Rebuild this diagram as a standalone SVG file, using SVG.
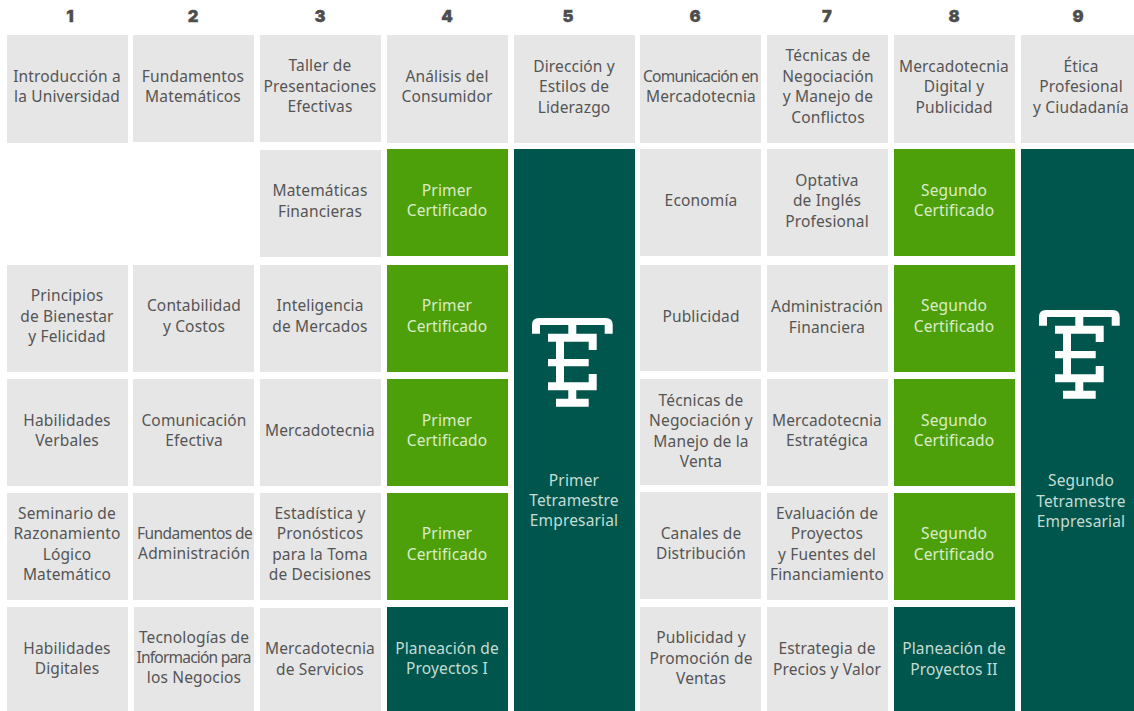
<svg xmlns="http://www.w3.org/2000/svg" width="1134" height="711" viewBox="0 0 1134 711">
<style>
text{font-family:"Noto Sans","Open Sans",sans-serif;font-size:15.5px;letter-spacing:.15px;text-anchor:middle}
.h{font-family:"Inter","Noto Sans",sans-serif;font-size:16.5px;font-weight:900;fill:#4d4d4d;stroke:#4d4d4d;stroke-width:.3px;letter-spacing:0}
.g rect{fill:#e6e6e6}.g text{fill:#555}
.c rect{fill:#4ea00b}.c text{fill:#dcecc9}
.d rect{fill:#00564c}.d text{fill:#c5dcd5}
</style>
<defs>
<path id="logo" fill="#fff" d="M532 333.7V325Q532 318 539 318H605.700Q612.700 318 612.700 325V333.700H604.700V325H576.300V333.700H596.700V350H588.700V341.700H564V359H588.700V366.300H564V382.300H588.700V374H596.700V390.300H576.300V398.700H588.700V406.700H556V398.700H568.300V390.300H548V382.300H556V366.300H548V359H556V341.700H548V333.700H568.300V325H540V333.700Z"/>
</defs>
<g id="headers">
<text class="h" x="70" y="22">1</text><text class="h" x="193" y="22">2</text><text class="h" x="320" y="22">3</text><text class="h" x="447" y="22">4</text><text class="h" x="568" y="22">5</text><text class="h" x="695" y="22">6</text><text class="h" x="827" y="22">7</text><text class="h" x="954" y="22">8</text><text class="h" x="1078" y="22">9</text>
</g>
<g id="n1" class="g"><rect x="7" y="35" width="121" height="108"/><text x="67" y="82">Introducción a</text><text x="67" y="102">la Universidad</text></g>
<g id="n2" class="g"><rect x="133" y="35" width="121" height="107"/><text x="193" y="82">Fundamentos</text><text x="193" y="102">Matemáticos</text></g>
<g id="n3" class="g"><rect x="260" y="35" width="121" height="107"/><text x="320" y="71">Taller de</text><text x="320" y="92">Presentaciones</text><text x="320" y="112">Efectivas</text></g>
<g id="n4" class="g"><rect x="387" y="35" width="121" height="108"/><text x="447" y="82">Análisis del</text><text x="447" y="102">Consumidor</text></g>
<g id="n5" class="g"><rect x="514" y="35" width="121" height="108"/><text x="574" y="72">Dirección y</text><text x="574" y="92">Estilos de</text><text x="574" y="113">Liderazgo</text></g>
<g id="n6" class="g"><rect x="640" y="35" width="121" height="108"/><text x="701" y="82" textLength="116">Comunicación en</text><text x="701" y="102">Mercadotecnia</text></g>
<g id="n7" class="g"><rect x="767" y="35" width="121" height="108"/><text x="828" y="61">Técnicas de</text><text x="828" y="82">Negociación</text><text x="828" y="102">y Manejo de</text><text x="828" y="123">Conflictos</text></g>
<g id="n8" class="g"><rect x="894" y="35" width="121" height="108"/><text x="954" y="72">Mercadotecnia</text><text x="954" y="92">Digital y</text><text x="954" y="113">Publicidad</text></g>
<g id="n9" class="g"><rect x="1021" y="35" width="113" height="108"/><text x="1081" y="72">Ética</text><text x="1081" y="92">Profesional</text><text x="1081" y="113">y Ciudadanía</text></g>

<g id="n10" class="g"><rect x="260" y="150" width="121" height="107"/><text x="320" y="196">Matemáticas</text><text x="320" y="217">Financieras</text></g>
<g id="n11" class="c"><rect x="387" y="149" width="121" height="107"/><text x="447" y="196">Primer</text><text x="447" y="216">Certificado</text></g>
<g id="n12" class="d"><rect x="514" y="149" width="121" height="562"/><text x="574" y="486">Primer</text><text x="574" y="506">Tetramestre</text><text x="574" y="526">Empresarial</text><use href="#logo"/></g>
<g id="n13" class="g"><rect x="640" y="149" width="121" height="107"/><text x="701" y="206">Economía</text></g>
<g id="n14" class="g"><rect x="767" y="149" width="121" height="107"/><text x="827" y="186">Optativa</text><text x="827" y="206">de Inglés</text><text x="827" y="227">Profesional</text></g>
<g id="n15" class="c"><rect x="894" y="149" width="121" height="107"/><text x="954" y="196">Segundo</text><text x="954" y="216">Certificado</text></g>
<g id="n16" class="d"><rect x="1021" y="149" width="113" height="562"/><text x="1081" y="486">Segundo</text><text x="1081" y="507">Tetramestre</text><text x="1081" y="527">Empresarial</text><use href="#logo" x="507" y="-8"/></g>

<g id="n17" class="g"><rect x="7" y="265" width="121" height="107"/><text x="67" y="301">Principios</text><text x="67" y="322">de Bienestar</text><text x="67" y="342">y Felicidad</text></g>
<g id="n18" class="g"><rect x="133" y="265" width="121" height="107"/><text x="194" y="311">Contabilidad</text><text x="194" y="332">y Costos</text></g>
<g id="n19" class="g"><rect x="260" y="265" width="121" height="107"/><text x="320" y="311">Inteligencia</text><text x="320" y="332">de Mercados</text></g>
<g id="n20" class="c"><rect x="387" y="265" width="121" height="107"/><text x="447" y="311">Primer</text><text x="447" y="332">Certificado</text></g>
<g id="n21" class="g"><rect x="640" y="265" width="121" height="106"/><text x="701" y="322">Publicidad</text></g>
<g id="n22" class="g"><rect x="767" y="265" width="121" height="107"/><text x="827" y="312">Administración</text><text x="827" y="333">Financiera</text></g>
<g id="n23" class="c"><rect x="894" y="265" width="121" height="107"/><text x="954" y="311">Segundo</text><text x="954" y="332">Certificado</text></g>

<g id="n24" class="g"><rect x="7" y="379" width="121" height="107"/><text x="67" y="426">Habilidades</text><text x="67" y="446">Verbales</text></g>
<g id="n25" class="g"><rect x="133" y="379" width="121" height="107"/><text x="194" y="426">Comunicación</text><text x="194" y="446">Efectiva</text></g>
<g id="n26" class="g"><rect x="260" y="379" width="121" height="107"/><text x="320" y="436">Mercadotecnia</text></g>
<g id="n27" class="c"><rect x="387" y="379" width="121" height="107"/><text x="447" y="426">Primer</text><text x="447" y="446">Certificado</text></g>
<g id="n28" class="g"><rect x="640" y="379" width="121" height="106"/><text x="701" y="406">Técnicas de</text><text x="701" y="426">Negociación y</text><text x="701" y="447">Manejo de la</text><text x="701" y="467">Venta</text></g>
<g id="n29" class="g"><rect x="767" y="379" width="121" height="107"/><text x="827" y="426">Mercadotecnia</text><text x="827" y="446">Estratégica</text></g>
<g id="n30" class="c"><rect x="894" y="379" width="121" height="107"/><text x="954" y="426">Segundo</text><text x="954" y="446">Certificado</text></g>

<g id="n31" class="g"><rect x="7" y="493" width="121" height="107"/><text x="67" y="519">Seminario de</text><text x="67" y="539">Razonamiento</text><text x="67" y="560">Lógico</text><text x="67" y="580">Matemático</text></g>
<g id="n32" class="g"><rect x="133" y="493" width="121" height="107"/><text x="195" y="539" textLength="116">Fundamentos de</text><text x="194" y="559">Administración</text></g>
<g id="n33" class="g"><rect x="260" y="493" width="121" height="107"/><text x="320" y="519">Estadística y</text><text x="320" y="539">Pronósticos</text><text x="320" y="560">para la Toma</text><text x="320" y="580">de Decisiones</text></g>
<g id="n34" class="c"><rect x="387" y="493" width="121" height="107"/><text x="447" y="539">Primer</text><text x="447" y="560">Certificado</text></g>
<g id="n35" class="g"><rect x="640" y="492" width="121" height="107"/><text x="701" y="539">Canales de</text><text x="701" y="559">Distribución</text></g>
<g id="n36" class="g"><rect x="767" y="493" width="121" height="107"/><text x="827" y="519">Evaluación de</text><text x="827" y="539">Proyectos</text><text x="827" y="560">y Fuentes del</text><text x="827" y="580">Financiamiento</text></g>
<g id="n37" class="c"><rect x="894" y="493" width="121" height="107"/><text x="954" y="539">Segundo</text><text x="954" y="560">Certificado</text></g>

<g id="n38" class="g"><rect x="7" y="607" width="121" height="104"/><text x="67" y="654">Habilidades</text><text x="67" y="674">Digitales</text></g>
<g id="n39" class="g"><rect x="134" y="607" width="120" height="104"/><text x="194" y="643">Tecnologías de</text><text x="194" y="663" textLength="115">Información para</text><text x="194" y="683">los Negocios</text></g>
<g id="n40" class="g"><rect x="260" y="608" width="121" height="103"/><text x="320" y="654">Mercadotecnia</text><text x="320" y="675">de Servicios</text></g>
<g id="n41" class="d"><rect x="387" y="607" width="121" height="104"/><text x="447" y="654">Planeación de</text><text x="447" y="674">Proyectos I</text></g>
<g id="n42" class="g"><rect x="640" y="607" width="121" height="104"/><text x="701" y="643">Publicidad y</text><text x="701" y="664">Promoción de</text><text x="701" y="684">Ventas</text></g>
<g id="n43" class="g"><rect x="767" y="607" width="121" height="104"/><text x="827" y="654">Estrategia de</text><text x="827" y="675">Precios y Valor</text></g>
<g id="n44" class="d"><rect x="894" y="607" width="121" height="104"/><text x="954" y="654">Planeación de</text><text x="954" y="675">Proyectos II</text></g>
</svg>
